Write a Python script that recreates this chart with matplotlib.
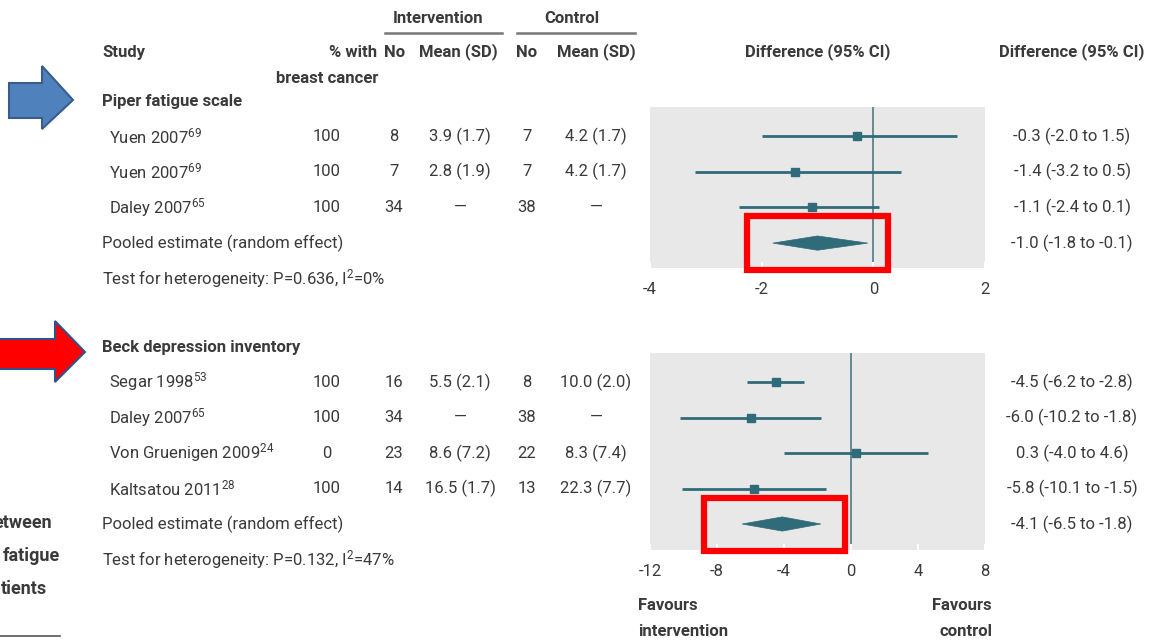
import matplotlib
matplotlib.use("Agg")
import matplotlib.pyplot as plt
from matplotlib.patches import Rectangle, Polygon

plt.rcParams['font.family'] = ['Roboto', 'DejaVu Sans']
plt.rcParams['mathtext.fontset'] = 'custom'
plt.rcParams['mathtext.rm'] = 'Roboto'
plt.rcParams['mathtext.it'] = 'Roboto'

INK = '#3a3a3a'
TEAL = '#2f6b78'
PANEL = '#e8e8e8'
FS = 12

# Piper fatigue scale
piper_names = ["Yuen 2007$^{\\mathrm{69}}$", "Yuen 2007$^{\\mathrm{69}}$", "Daley 2007$^{\\mathrm{65}}$"]
piper_pct = ["100", "100", "100"]
piper_int_n = ["8", "7", "34"]
piper_int_mean = ["3.9 (1.7)", "2.8 (1.9)", "\u2014"]
piper_ctl_n = ["7", "7", "38"]
piper_ctl_mean = ["4.2 (1.7)", "4.2 (1.7)", "\u2014"]
piper_est = [-0.3, -1.4, -1.1]
piper_lo = [-2.0, -3.2, -2.4]
piper_hi = [1.5, 0.5, 0.1]
piper_pooled = (-1.0, -1.8, -0.1)
piper_het = "Test for heterogeneity: P=0.636, I$^{\\mathrm{2}}$=0%"
piper_ticks = [-4, -2, 0, 2]

# Beck depression inventory
beck_names = ["Segar 1998$^{\\mathrm{53}}$", "Daley 2007$^{\\mathrm{65}}$",
              "Von Gruenigen 2009$^{\\mathrm{24}}$", "Kaltsatou 2011$^{\\mathrm{28}}$"]
beck_pct = ["100", "100", "0", "100"]
beck_int_n = ["16", "34", "23", "14"]
beck_int_mean = ["5.5 (2.1)", "\u2014", "8.6 (7.2)", "16.5 (1.7)"]
beck_ctl_n = ["8", "38", "22", "13"]
beck_ctl_mean = ["10.0 (2.0)", "\u2014", "8.3 (7.4)", "22.3 (7.7)"]
beck_est = [-4.5, -6.0, 0.3, -5.8]
beck_lo = [-6.2, -10.2, -4.0, -10.1]
beck_hi = [-2.8, -1.8, 4.6, -1.5]
beck_pooled = (-4.1, -6.5, -1.8)
beck_het = "Test for heterogeneity: P=0.132, I$^{\\mathrm{2}}$=47%"
beck_ticks = [-12, -8, -4, 0, 4, 8]

W, H = 1152, 644
fig = plt.figure(figsize=(W / 100, H / 100), dpi=100)
fig.patch.set_facecolor('white')

# pixel-space layer for the table text
page = fig.add_axes([0, 0, 1, 1])
page.set_xlim(0, W)
page.set_ylim(H, 0)
page.axis('off')


def txt(x, y, s, ha='left', bold=False, size=FS, color=INK, ax=None):
    (ax or page).text(x, y, s, ha=ha, va='center', fontsize=size, color=color,
                      fontweight='bold' if bold else 'normal')


def fmt_ci(e, lo, hi):
    return f"{e:.1f} ({lo:.1f} to {hi:.1f})"


# column headers
txt(438, 18, "Intervention", ha='center', bold=True)
txt(572, 18, "Control", ha='center', bold=True)
page.plot([385, 502], [33, 33], color='#777777', lw=1.8)
page.plot([517, 635], [33, 33], color='#777777', lw=1.8)
txt(102, 52, "Study", bold=True)
txt(377, 52, "% with", ha='right', bold=True)
txt(378, 78, "breast cancer", ha='right', bold=True)
txt(395, 52, "No", ha='center', bold=True)
txt(458, 52, "Mean (SD)", ha='center', bold=True)
txt(527, 52, "No", ha='center', bold=True)
txt(596, 52, "Mean (SD)", ha='center', bold=True)
txt(818, 52, "Difference (95% CI)", ha='center', bold=True)
txt(1072, 52, "Difference (95% CI)", ha='center', bold=True)

boxes = []


def section(title, title_y, row_y, step, names, pct, int_n, int_mean, ctl_n, ctl_mean,
            est, lo, hi, pooled, het, ticks, box, panel_top, panel_bot):
    txt(102, title_y, title, bold=True)
    n = len(names)
    for i in range(n):
        y = row_y + i * step
        txt(109, y, names[i])
        txt(327, y, pct[i], ha='center')
        txt(394, y, int_n[i], ha='center')
        txt(460, y, int_mean[i], ha='center')
        txt(527, y, ctl_n[i], ha='center')
        txt(596, y, ctl_mean[i], ha='center')
        txt(1072, y, fmt_ci(est[i], lo[i], hi[i]), ha='center')
    py = row_y + n * step
    txt(102, py, "Pooled estimate (random effect)")
    txt(1072, py, fmt_ci(*pooled), ha='center')
    txt(102, py + step, het)

    # forest panel
    x0, x1 = 650, 985
    ax = fig.add_axes([x0 / W, 1 - panel_bot / H, (x1 - x0) / W, (panel_bot - panel_top) / H])
    ax.set_facecolor(PANEL)
    for s in ax.spines.values():
        s.set_visible(False)
    ax.set_xlim(ticks[0], ticks[-1])
    ax.set_ylim((panel_bot - row_y) / step, (panel_top - row_y) / step)
    ax.axvline(0, color='#5b8290', lw=1.3, zorder=1)
    for i in range(n):
        ax.plot([lo[i], hi[i]], [i, i], color=TEAL, lw=2.0, solid_capstyle='butt', zorder=2)
        ax.plot(est[i], i, 's', color=TEAL, ms=6, zorder=3)
    e, l, h = pooled
    dh = 0.2
    ax.add_patch(Polygon([[l, n], [e, n - dh], [h, n], [e, n + dh]], closed=True,
                         facecolor=TEAL, edgecolor=TEAL, lw=0.5, zorder=3))
    ax.set_xticks(ticks)
    ax.set_xticklabels([str(t) for t in ticks])
    ax.set_yticks([])
    ax.tick_params(axis='x', direction='in', length=4, width=1.5, color='white',
                   labelsize=FS, labelcolor=INK, pad=10)
    boxes.append(box)


section("Piper fatigue scale", 101, 136, 35.7, piper_names, piper_pct, piper_int_n,
        piper_int_mean, piper_ctl_n, piper_ctl_mean, piper_est, piper_lo, piper_hi,
        piper_pooled, piper_het, piper_ticks, (747, 216, 888, 270), 107, 268)

section("Beck depression inventory", 347, 382, 35.5, beck_names, beck_pct, beck_int_n,
        beck_int_mean, beck_ctl_n, beck_ctl_mean, beck_est, beck_lo, beck_hi,
        beck_pooled, beck_het, beck_ticks, (704, 498, 845, 551), 353, 550)

# overlay layer: highlight boxes, arrows, labels below the panels
top = fig.add_axes([0, 0, 1, 1])
top.set_xlim(0, W)
top.set_ylim(H, 0)
top.axis('off')

for bx0, by0, bx1, by1 in boxes:
    top.add_patch(Rectangle((bx0, by0), bx1 - bx0, by1 - by0, fill=False,
                            edgecolor='#ff0000', lw=4.5))

txt(638, 606, "Favours", bold=True, ax=top)
txt(638, 632, "intervention", bold=True, ax=top)
txt(992, 606, "Favours", ha='right', bold=True, ax=top)
txt(992, 632, "control", ha='right', bold=True, ax=top)

blue = Polygon([[9, 83], [42, 83], [42, 66], [73, 100], [42, 129], [42, 118], [9, 118]],
               closed=True, facecolor='#4f81bd', edgecolor='#385d8a', lw=1.5)
red = Polygon([[-5, 339], [55, 339], [55, 321], [85, 352], [55, 382], [55, 369], [-5, 369]],
              closed=True, facecolor='#ff0000', edgecolor='#2f528f', lw=1.5)
top.add_patch(blue)
top.add_patch(red)

# caption fragment cut off at the slide edge
txt(52, 523, "etween", ha='right', bold=True, size=13, ax=top)
txt(60, 556, "fatigue", ha='right', bold=True, size=13, ax=top)
txt(47, 589, "tients", ha='right', bold=True, size=13, ax=top)
top.plot([0, 60], [636, 636], color='#555555', lw=1.2)

fig.savefig("out.png", dpi=100, facecolor='white')
